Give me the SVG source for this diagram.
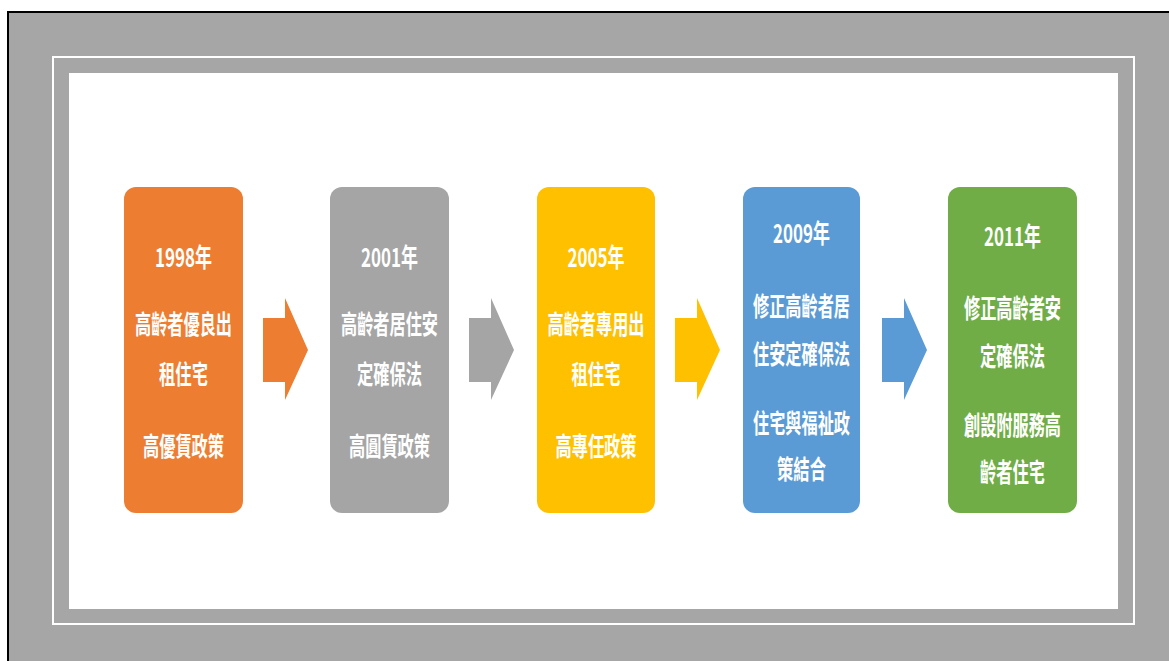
<svg xmlns="http://www.w3.org/2000/svg" width="1169" height="661" viewBox="0 0 1169 661">
<style>
.box{stroke:none}
.t{font-family:"Noto Sans CJK TC","Noto Sans CJK SC",sans-serif;font-weight:bold;font-size:26px;fill:#ffffff;text-anchor:middle;dominant-baseline:central}
</style>
<rect x="0" y="0" width="1169" height="661" fill="#ffffff"/>
<rect x="7" y="11" width="1170" height="660" fill="#000000"/>
<rect x="9" y="13" width="1170" height="660" fill="#a6a6a6"/>
<rect x="53" y="57" width="1081" height="567" fill="none" stroke="#ffffff" stroke-width="2"/>
<rect x="69" y="73" width="1049" height="536" fill="#ffffff"/>

<g id="connectors">
<polygon points="263,318 285,318 285,298 308,350 285,400 285,382 263,382" fill="#ED7D31"/>
<polygon points="469,318 491,318 491,298 514,350 491,400 491,382 469,382" fill="#A5A5A5"/>
<polygon points="675,318 697,318 697,298 720,350 697,400 697,382 675,382" fill="#FFC000"/>
<polygon points="882,318 904,318 904,298 927,350 904,400 904,382 882,382" fill="#5B9BD5"/>
</g>

<g id="node1998">
<rect class="box" x="124" y="187" width="119" height="326" rx="12" fill="#ED7D31"/>
<text class="t" x="183.5" y="255" textLength="57" lengthAdjust="spacingAndGlyphs">1998年</text>
<text class="t" x="183.5" y="322" textLength="97" lengthAdjust="spacingAndGlyphs">高齡者優良出</text>
<text class="t" x="183.5" y="372" textLength="49" lengthAdjust="spacingAndGlyphs">租住宅</text>
<text class="t" x="183.5" y="444" textLength="81" lengthAdjust="spacingAndGlyphs">高優賃政策</text>
</g>

<g id="node2001">
<rect class="box" x="330" y="187" width="119" height="326" rx="12" fill="#A5A5A5"/>
<text class="t" x="389.5" y="255" textLength="57" lengthAdjust="spacingAndGlyphs">2001年</text>
<text class="t" x="389.5" y="322" textLength="97" lengthAdjust="spacingAndGlyphs">高齡者居住安</text>
<text class="t" x="389.5" y="372" textLength="65" lengthAdjust="spacingAndGlyphs">定確保法</text>
<text class="t" x="389.5" y="444" textLength="81" lengthAdjust="spacingAndGlyphs">高圓賃政策</text>
</g>

<g id="node2005">
<rect class="box" x="537" y="187" width="118" height="326" rx="12" fill="#FFC000"/>
<text class="t" x="596" y="255" textLength="57" lengthAdjust="spacingAndGlyphs">2005年</text>
<text class="t" x="596" y="322" textLength="97" lengthAdjust="spacingAndGlyphs">高齡者專用出</text>
<text class="t" x="596" y="372" textLength="49" lengthAdjust="spacingAndGlyphs">租住宅</text>
<text class="t" x="596" y="444" textLength="81" lengthAdjust="spacingAndGlyphs">高專任政策</text>
</g>

<g id="node2009">
<rect class="box" x="743" y="187" width="117" height="326" rx="12" fill="#5B9BD5"/>
<text class="t" x="801.5" y="231" textLength="57" lengthAdjust="spacingAndGlyphs">2009年</text>
<text class="t" x="801.5" y="304" textLength="97" lengthAdjust="spacingAndGlyphs">修正高齡者居</text>
<text class="t" x="801.5" y="352" textLength="97" lengthAdjust="spacingAndGlyphs">住安定確保法</text>
<text class="t" x="801.5" y="421" textLength="97" lengthAdjust="spacingAndGlyphs">住宅與福祉政</text>
<text class="t" x="801.5" y="467" textLength="49" lengthAdjust="spacingAndGlyphs">策結合</text>
</g>

<g id="node2011">
<rect class="box" x="948" y="187" width="129" height="326" rx="12" fill="#70AD47"/>
<text class="t" x="1012.5" y="234" textLength="57" lengthAdjust="spacingAndGlyphs">2011年</text>
<text class="t" x="1012.5" y="306" textLength="97" lengthAdjust="spacingAndGlyphs">修正高齡者安</text>
<text class="t" x="1012.5" y="354" textLength="65" lengthAdjust="spacingAndGlyphs">定確保法</text>
<text class="t" x="1012.5" y="423" textLength="97" lengthAdjust="spacingAndGlyphs">創設附服務高</text>
<text class="t" x="1012.5" y="470" textLength="65" lengthAdjust="spacingAndGlyphs">齡者住宅</text>
</g>
</svg>
